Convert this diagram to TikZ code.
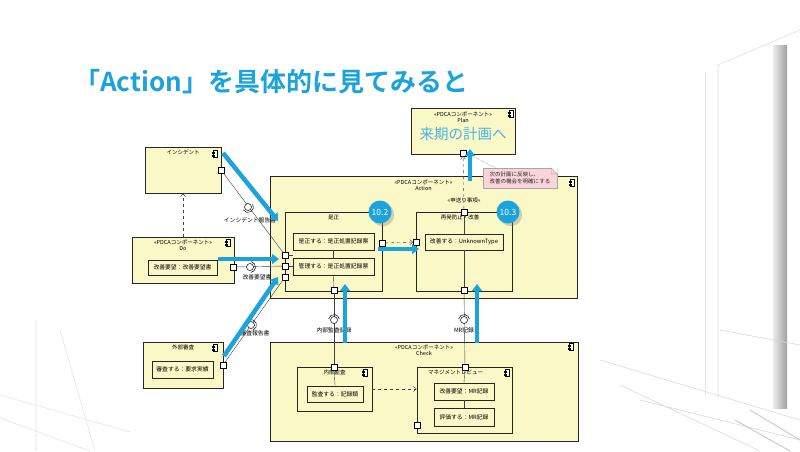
\documentclass[tikz,border=0pt]{standalone}
\usepackage{fontspec}
\setmainfont{Noto Sans CJK JP}[BoldFont={* Bold}]
\usepackage{tikz}
\usepackage{xcolor}
\usetikzlibrary{arrows.meta,positioning,calc,shadows}
\definecolor{pdcablue}{HTML}{1CA3DC}
\definecolor{umlfill}{HTML}{FBF8C8}
\definecolor{notepink}{HTML}{FBD3DA}

% small UML component icon
\newcommand{\compicon}[2]{%
  \draw[line width=0.4pt, fill=white] (#1-2,#2-3.5) rectangle (#1+2.5,#2+3.5);
  \draw[line width=0.3pt, fill=white] (#1-3.2,#2-2.2) rectangle (#1-0.8,#2-0.8);
  \draw[line width=0.3pt, fill=white] (#1-3.2,#2+0.8) rectangle (#1-0.8,#2+2.2);
}

\begin{document}
\begin{tikzpicture}[
  x=1pt, y=-1pt,
  every node/.style={font=\fontsize{5.5}{6}\selectfont, inner sep=0pt},
  comp/.style={rectangle, draw=black!85, line width=0.8pt, fill=umlfill},
  part/.style={rectangle, draw=black!85, line width=0.8pt},
  inner/.style={rectangle, draw=black!85, line width=0.8pt, fill=umlfill,
    font=\fontsize{5.8}{6}\selectfont},
  port/.style={rectangle, draw=black, line width=0.5pt, fill=white,
    minimum size=5.5pt},
  lolli/.style={circle, draw=black, line width=0.5pt, fill=white,
    minimum size=7pt},
  socket/.style={draw=black, line width=0.5pt},
  wire/.style={draw=black!75, line width=0.4pt},
  dep/.style={wire, dashed, -{Straight Barb[length=3pt,width=5pt]}},
  flow/.style={draw=pdcablue, line width=4.5pt,
    -{Triangle[length=7pt,width=10pt]}},
  clause/.style={circle, fill=pdcablue, minimum size=23pt, text=white,
    font=\fontsize{8.5}{9}\selectfont, drop shadow={opacity=0.35}},
  lbl/.style={font=\fontsize{5.8}{6}\selectfont},
]
\useasboundingbox (0,0) rectangle (800,451);
\fill[white] (0,0) rectangle (800,451);

% background sketch
\draw[gray!25, line width=0.6pt] (718,65) -- (718,398) (718,65) -- (800,30);
\draw[gray!20, line width=0.6pt] (705,72) -- (705,395);
\shade[left color=gray!15, right color=gray!75] (773,45) rectangle (787,408);
\draw[gray!30, line width=0.6pt] (600,360) -- (800,420) (620,385) -- (760,451)
  (720,330) -- (800,345) (640,400) -- (800,440);
\draw[gray!40, line width=1pt] (735,420) -- (790,451) (750,410) -- (800,440);
\draw[gray!20, line width=0.6pt] (36,320) -- (36,451) (0,395) -- (130,432)
  (0,418) -- (90,451) (60,330) -- (95,451);

% title
\node[font=\fontsize{26}{28}\selectfont\bfseries, text=pdcablue, anchor=west]
  (title) at (74,82) {「Action」を具体的に見てみると};

% outer components
\node[comp, minimum width=307pt, minimum height=122pt] (action) at (423.5,237) {};
\node[comp, minimum width=308pt, minimum height=99pt] (check) at (424,391.5) {};
\node[comp, minimum width=76pt, minimum height=46pt] (incident) at (183,170) {};
\node[comp, minimum width=102pt, minimum height=46pt] (do) at (183,260) {};
\node[comp, minimum width=80pt, minimum height=46pt] (extaudit) at (183,365) {};
\node[comp, minimum width=104pt, minimum height=46pt] (plan) at (463,131) {};

% parts
\node[part, minimum width=97pt, minimum height=79pt] (corr) at (333.5,251.5) {};
\node[part, minimum width=96pt, minimum height=79pt] (prev) at (464,251.5) {};
\node[part, minimum width=75pt, minimum height=44pt] (audit) at (334.5,389) {};
\node[part, minimum width=95pt, minimum height=66pt] (review) at (464.5,400) {};

% inner properties
\node[inner, minimum width=69pt, minimum height=15pt] (doreq) at (182.5,267.5) {改善要望：改善要望書};
\node[inner, minimum width=81pt, minimum height=17pt] (corr1) at (333.5,241.5) {是正する：是正処置記録票};
\node[inner, minimum width=81pt, minimum height=17pt] (corr2) at (333.5,266.5) {管理する：是正処置記録票};
\node[inner, minimum width=78pt, minimum height=16pt] (prev1) at (464,242) {改善する：UnknownType};
\node[inner, minimum width=61pt, minimum height=17pt] (ext1) at (182.5,369.5) {審査する：要求実績};
\node[inner, minimum width=56pt, minimum height=16pt] (audit1) at (335,394) {監査する：記録類};
\node[inner, minimum width=60pt, minimum height=17pt] (rev1) at (464,391.5) {改善要望：MR記録};
\node[inner, minimum width=60pt, minimum height=18pt] (rev2) at (464,417) {評価する：MR記録};

% titles
\node[below=3.5pt of incident.north] (incidentT) {インシデント};
\node[below=3pt of do.north] (doS) {<<PDCAコンポーネント>>};
\node[below=1pt of doS] (doT) {Do};
\node[below=3.5pt of extaudit.north] (extT) {外部審査};
\node[below=4pt of plan.north] (planS) {<<PDCAコンポーネント>>};
\node[below=1pt of planS] (planT) {Plan};
\node[below=4pt of planT, font=\fontsize{14.5}{15}\selectfont, text=pdcablue!80] (planX) {来期の計画へ};
\node[below=4pt of action.north] (actionS) {<<PDCAコンポーネント>>};
\node[below=1pt of actionS] (actionT) {Action};
\node[below=3.5pt of check.north] (checkS) {<<PDCAコンポーネント>>};
\node[below=1pt of checkS] (checkT) {Check};
\node[below=3.5pt of corr.north] (corrT) {是正};
\node[below=3.5pt of prev.north, xshift=-4pt] (prevT) {再発防止・改善};
\node[above=8pt of prev.north] (prevS) {<<申送り事項>>};
\node[below=3.5pt of audit.north] (auditT) {内部監査};
\node[below=3.5pt of review.north, xshift=-9pt] (reviewT) {マネジメントレビュー};

% component icons
\compicon{215}{154}
\compicon{228}{243}
\compicon{215}{348}
\compicon{511}{114}
\compicon{572}{183}
\compicon{571}{347}
\compicon{365}{373}
\compicon{507}{373}

% ports
\node[port] (pinc) at (221,170) {};
\node[port] (pdo) at (233,267) {};
\node[port] (pext) at (223,365) {};
\node[port] (pplan) at (463,153) {};
\node[port] (pc1) at (285,255) {};
\node[port] (pc2) at (285,266) {};
\node[port] (pc3) at (285,277) {};
\node[port] (pcr) at (382,243) {};
\node[port] (pcb) at (334,290) {};
\node[port] (ppt) at (464,212) {};
\node[port] (ppl) at (416,242) {};
\node[port] (ppb) at (464,290) {};
\node[port] (pat) at (334,367) {};
\node[port] (prt) at (465,367) {};
\node[port] (prl) at (417,425) {};

% wires
\draw[wire] (pinc) -- (pc1);
\draw[wire] (pdo) -- (pc2);
\draw[wire] (pext) -- (pc3);
\draw[wire] (pcb) -- (pat);
\draw[wire] (ppb) -- (prt);
\draw[wire] (pc1) -- (pc1 -| corr2.west);
\draw[wire] (pc2) -- (corr2.west |- pc2);
\draw[wire] (corr1.south) -- (corr2.north);
\draw[wire] (corr2.south) -- (pcb);
\draw[wire] (ppt) -- (prev1.north);
\draw[wire] (prev1.south) -- (ppb);
\draw[wire] (pat) -- (audit1.north);
\draw[wire] (prt) -- (rev1.north);
\draw[wire] (rev1.south) -- (rev2.north);
\draw[wire, densely dotted] (pplan.east) -- (496,168);

% dependencies
\draw[dep] (do.north) -- (incident.south);
\draw[dep] (pcr) -- (ppl);
\draw[dep] (audit.east) -- (audit.east -| review.west);
\draw[dep] (ppt) -- (pplan);

% lollipops
\node[lolli] (lInc) at (248,207) {};
\draw[socket] ($(lInc)+(-32:5.5)$) arc[start angle=-32, end angle=148, radius=5.5];
\node[lolli] (lDo) at (250,267) {};
\draw[socket] ($(lDo)+(-80:5.5)$) arc[start angle=-80, end angle=80, radius=5.5];
\node[lolli] (lExt) at (251,325) {};
\draw[socket] ($(lExt)+(-115:5.5)$) arc[start angle=-115, end angle=65, radius=5.5];
\node[lolli] (lAud) at (334,320) {};
\draw[socket] ($(lAud)+(-170:5.5)$) arc[start angle=-170, end angle=-10, radius=5.5];
\node[lolli] (lMR) at (464,320) {};
\draw[socket] ($(lMR)+(-170:5.5)$) arc[start angle=-170, end angle=-10, radius=5.5];

\node[lbl] (lIncT) at (250,220) {インシデント報告書};
\node[lbl] (lDoT) at (257,277) {改善要望書};
\node[lbl] (lExtT) at (255,333) {審査報告書};
\node[lbl] (lAudT) at (334,330) {内部監査記録};
\node[lbl] (lMRT) at (464,330) {MR記録};

% note
\node[rectangle, fill=notepink, draw=gray!70, line width=0.4pt,
  minimum width=74pt, minimum height=20pt, align=left,
  font=\fontsize{5.5}{7}\selectfont, text=black!85] (note) at (520,178)
  {次の計画に反映し、\\改善の機会を明確にする};
\fill[white] ($(note.north east)+(-6,-0.3)$) -- ($(note.north east)+(0.3,-0.3)$) -- ($(note.north east)+(0.3,6)$) -- cycle;
\draw[gray!70, line width=0.4pt] ($(note.north east)+(-6,0)$) -- ($(note.north east)+(0,6)$)
  -- ($(note.north east)+(-6,6)$) -- cycle;

% improvement flow
\coordinate (fIncA) at (223,153);
\coordinate (fIncB) at (278,221);
\coordinate (fDoA) at (218,259);
\coordinate (fDoB) at (279,259);
\coordinate (fExtA) at (224,356);
\coordinate (fExtB) at (278,277);
\coordinate (fCorrA) at (378,249);
\coordinate (fCorrB) at (419,249);
\coordinate (fPlanA) at (470,181);
\coordinate (fPlanB) at (470,149);
\coordinate (fAudA) at (345,343);
\coordinate (fAudB) at (345,284);
\coordinate (fMRA) at (477,343);
\coordinate (fMRB) at (477,284);
\draw[flow] (fIncA) -- (fIncB);
\draw[flow] (fDoA) -- (fDoB);
\draw[flow] (fExtA) -- (fExtB);
\draw[flow] (fCorrA) -- (fCorrB);
\draw[flow] (fPlanA) -- (fPlanB);
\draw[flow] (fAudA) -- (fAudB);
\draw[flow] (fMRA) -- (fMRB);

% clause numbers
\node[clause] (c102) at (380,212) {10.2};
\node[clause] (c103) at (508,212) {10.3};
\end{tikzpicture}
\end{document}
